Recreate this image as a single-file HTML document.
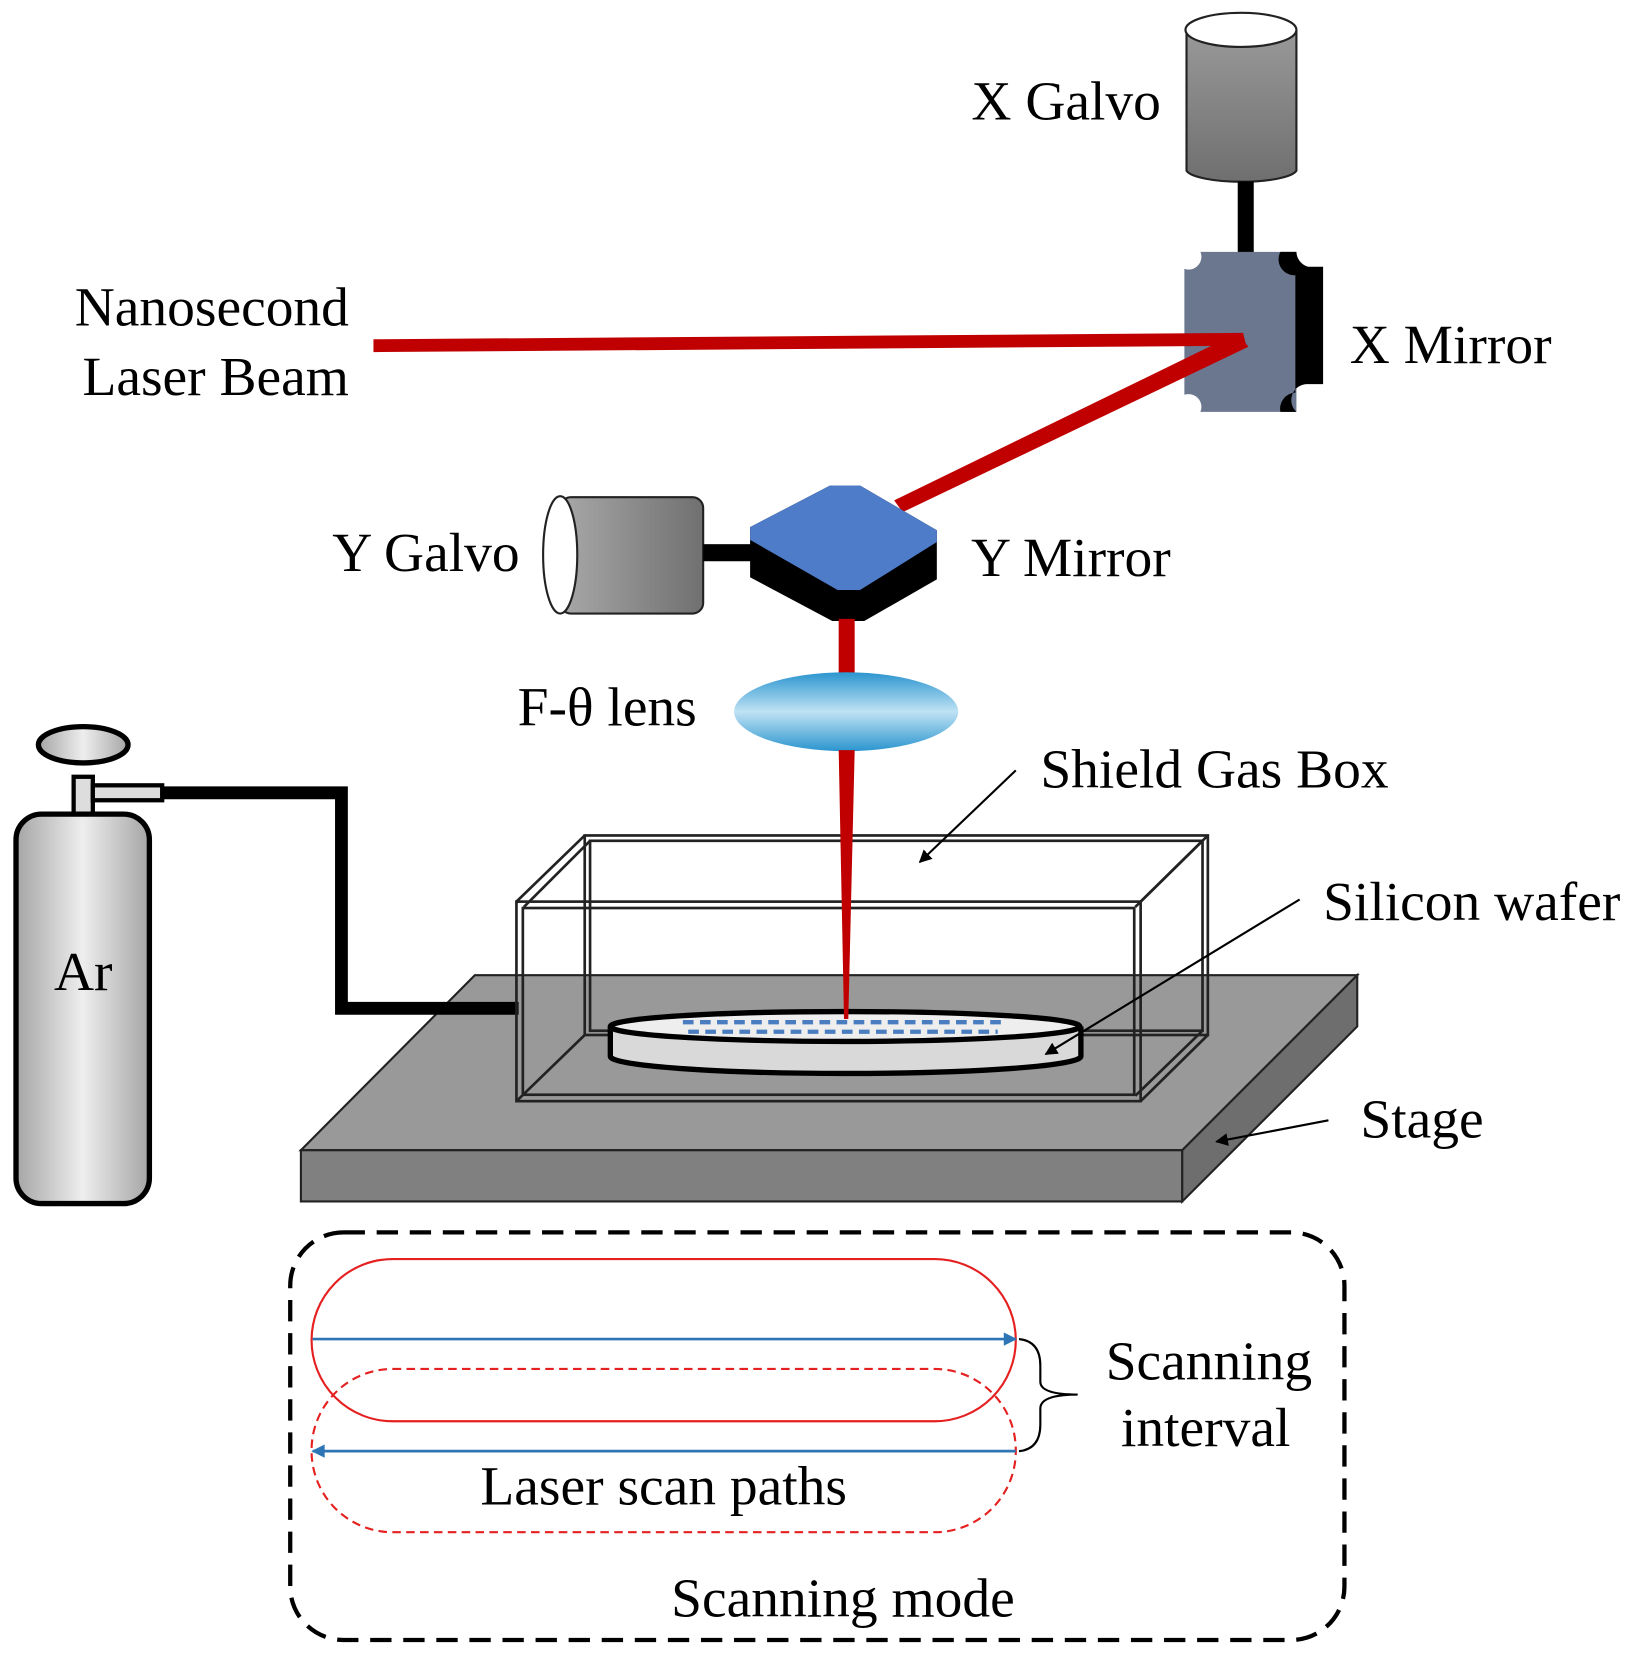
<!DOCTYPE html>
<html><head><meta charset="utf-8"><style>html,body{margin:0;padding:0;background:#fff}svg{display:block}</style></head>
<body>
<svg width="1640" height="1672" viewBox="0 0 1537 1567" xmlns="http://www.w3.org/2000/svg" font-family="'Liberation Serif', serif" font-size="52">
<defs>
<linearGradient id="gv" x1="0" y1="0" x2="0" y2="1"><stop offset="0" stop-color="#999"/><stop offset="1" stop-color="#6f6f6f"/></linearGradient>
<linearGradient id="gh" x1="0" y1="0" x2="1" y2="0"><stop offset="0" stop-color="#a8a8a8"/><stop offset="1" stop-color="#707070"/></linearGradient>
<linearGradient id="tank" x1="0" y1="0" x2="1" y2="0"><stop offset="0" stop-color="#a5a5a5"/><stop offset="0.5" stop-color="#eee"/><stop offset="1" stop-color="#a5a5a5"/></linearGradient>
<linearGradient id="lens" x1="0" y1="0" x2="0" y2="1"><stop offset="0" stop-color="#2b95cf"/><stop offset="0.5" stop-color="#bfe2f4"/><stop offset="1" stop-color="#2b95cf"/></linearGradient>
<marker id="ah" viewBox="0 0 10 10" refX="9" refY="5" markerWidth="6" markerHeight="6" orient="auto"><path d="M0,0L10,5L0,10z" fill="#000"/></marker>
<marker id="bh" viewBox="0 0 10 10" refX="9" refY="5" markerWidth="6" markerHeight="5" orient="auto"><path d="M0,0L10,5L0,10z" fill="#2e75b6"/></marker>
</defs>

<!-- X galvo -->
<path d="M1112,28 V160 A52,12 0 0 0 1215,160 V28" fill="url(#gv)" stroke="#222" stroke-width="2"/>
<ellipse cx="1163" cy="28" rx="52" ry="16" fill="#fff" stroke="#222" stroke-width="2"/>
<rect x="1160" y="170" width="15" height="68" fill="#000"/>
<!-- X mirror -->
<path d="M1125,236 H1215 V386 H1125 A12,12 0 0 0 1110,370 V252 A12,12 0 0 0 1125,236z" fill="#6b778f"/>
<path d="M1200,236 H1215 A15,15 0 0 0 1226,250 H1240 V360 H1226 A15,15 0 0 0 1215,386 H1200 A15,15 0 0 1 1214,368 V258 A15,15 0 0 1 1200,236z" fill="#000"/>

<!-- Laser beams -->
<polygon points="350,318 1165,312 1168,324 350,330" fill="#c00000"/>
<polygon points="1160,312 1170,325 846,480 838,469" fill="#c00000"/>

<!-- Y galvo -->
<rect x="525" y="466" width="134" height="109" rx="10" fill="url(#gh)" stroke="#222" stroke-width="2"/>
<ellipse cx="525" cy="520" rx="16" ry="55" fill="#fff" stroke="#222" stroke-width="2"/>
<rect x="659" y="510" width="50" height="16" fill="#000"/>
<!-- Y mirror -->
<polygon points="703,494 778,455 806,455 878,497 878,543 810,582 780,582 703,541" fill="#000"/>
<polygon points="703,494 778,455 806,455 878,497 878,508 806,553 785,553 703,506" fill="#4f7cc8"/>

<!-- beam down -->
<rect x="786" y="580" width="15" height="55" fill="#c00000"/>
<ellipse cx="793" cy="667" rx="105" ry="37" fill="url(#lens)"/>

<!-- Ar tank -->
<rect x="69" y="728" width="18" height="36" fill="#ddd" stroke="#000" stroke-width="4"/>
<rect x="87" y="736" width="65" height="14" fill="#ddd" stroke="#000" stroke-width="4"/>
<ellipse cx="78" cy="698" rx="42" ry="17" fill="url(#tank)" stroke="#000" stroke-width="5"/>
<rect x="15" y="763" width="125" height="365" rx="24" fill="url(#tank)" stroke="#000" stroke-width="5"/>
<text x="78" y="928" text-anchor="middle">Ar</text>

<!-- Stage -->
<polygon points="445,914 1272,914 1108,1078 282,1078" fill="#999" stroke="#222" stroke-width="2"/>
<rect x="282" y="1078" width="826" height="48" fill="#808080" stroke="#222" stroke-width="2"/>
<polygon points="1108,1078 1272,914 1272,962 1108,1126" fill="#6e6e6e" stroke="#222" stroke-width="2"/>
<polyline points="152,743 320,743 320,945 486,945" fill="none" stroke="#000" stroke-width="12"/>

<!-- Box back -->
<g fill="none" stroke="#222" stroke-width="2.5">
<rect x="548" y="783" width="584" height="187"/>
<rect x="553" y="788" width="574" height="178"/>
<line x1="484" y1="845" x2="548" y2="783"/><line x1="491" y1="850" x2="553" y2="788"/>
<line x1="1069" y1="845" x2="1132" y2="783"/><line x1="1064" y1="850" x2="1127" y2="788"/>
<line x1="484" y1="1032" x2="548" y2="970"/>
<line x1="1069" y1="1032" x2="1132" y2="970"/><line x1="1064" y1="1027" x2="1127" y2="966"/>
</g>
<!-- wafer -->
<path d="M572,962 V990 A220,16 0 0 0 1013,990 V962" fill="#d9d9d9" stroke="#000" stroke-width="5"/>
<ellipse cx="792" cy="962" rx="220" ry="14" fill="#eee" stroke="#000" stroke-width="5"/>
<line x1="640" y1="958" x2="940" y2="958" stroke="#4a7cc0" stroke-width="4" stroke-dasharray="10,6"/>
<line x1="645" y1="967" x2="935" y2="967" stroke="#4a7cc0" stroke-width="4" stroke-dasharray="10,6"/>
<!-- Box front -->
<g fill="none" stroke="#222" stroke-width="2.5">
<rect x="484" y="845" width="585" height="187"/>
<rect x="490" y="851" width="573" height="175"/>
</g>
<polygon points="786,703 801,703 795,955 791,955" fill="#c00000"/>

<!-- Pointer arrows -->
<line x1="952" y1="722" x2="862" y2="808" stroke="#000" stroke-width="2" marker-end="url(#ah)"/>
<line x1="1218" y1="843" x2="980" y2="988" stroke="#000" stroke-width="2" marker-end="url(#ah)"/>
<line x1="1245" y1="1050" x2="1140" y2="1070" stroke="#000" stroke-width="2" marker-end="url(#ah)"/>

<!-- Labels -->
<text x="1088" y="112" text-anchor="end">X Galvo</text>
<text x="327" y="305" text-anchor="end">Nanosecond</text>
<text x="327" y="370" text-anchor="end">Laser Beam</text>
<text x="1265" y="340">X Mirror</text>
<text x="487" y="535" text-anchor="end">Y Galvo</text>
<text x="910" y="540">Y Mirror</text>
<text x="653" y="680" text-anchor="end">F-θ lens</text>
<text x="975" y="738">Shield Gas Box</text>
<text x="1240" y="862">Silicon wafer</text>
<text x="1275" y="1066">Stage</text>

<!-- Scanning mode -->
<rect x="272" y="1155" width="988" height="382" rx="50" fill="none" stroke="#000" stroke-width="4" stroke-dasharray="20,11"/>
<rect x="292" y="1180" width="660" height="152" rx="76" fill="none" stroke="#e52020" stroke-width="2"/>
<rect x="292" y="1283" width="660" height="153" rx="76" fill="none" stroke="#e52020" stroke-width="2" stroke-dasharray="8,5"/>
<line x1="293" y1="1255" x2="952" y2="1255" stroke="#2e75b6" stroke-width="2.5" marker-end="url(#bh)"/>
<line x1="952" y1="1360" x2="293" y2="1360" stroke="#2e75b6" stroke-width="2.5" marker-end="url(#bh)"/>
<path d="M955,1255 Q975,1257 975,1280 V1295 Q975,1307 1010,1307 Q975,1307 975,1320 V1335 Q975,1358 955,1360" fill="none" stroke="#000" stroke-width="2"/>
<text x="1133" y="1293" text-anchor="middle">Scanning</text>
<text x="1130" y="1355" text-anchor="middle">interval</text>
<text x="622" y="1410" text-anchor="middle">Laser scan paths</text>
<text x="790" y="1515" text-anchor="middle">Scanning mode</text>
</svg>
</body></html>
